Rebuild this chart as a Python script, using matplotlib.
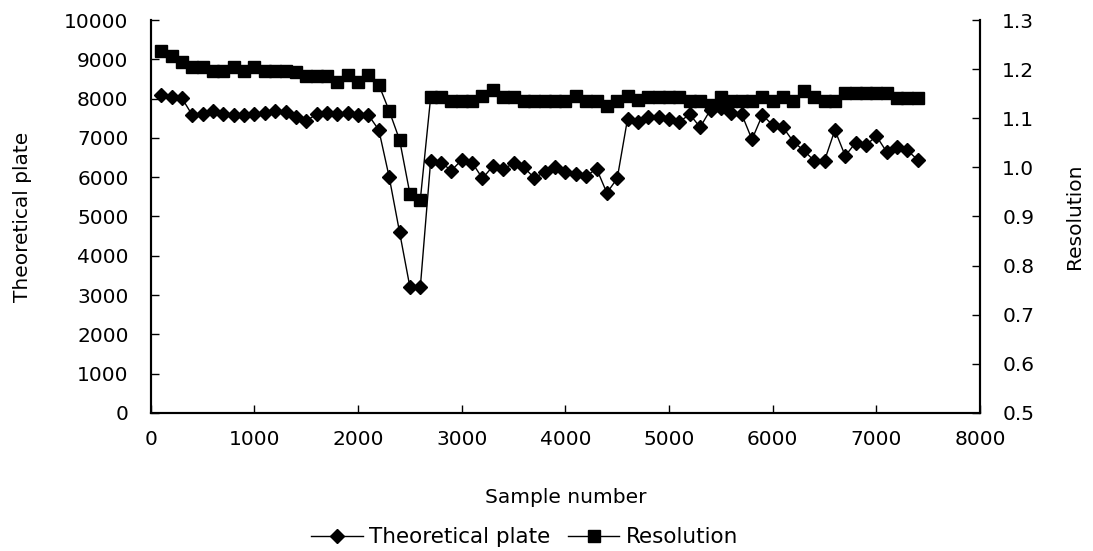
import matplotlib
matplotlib.use('Agg')
import matplotlib.pyplot as plt

# sample numbers (every 100 samples)
sample_no = list(range(100, 7500, 100))

plate = [8100, 8050, 8010, 7580, 7620, 7690, 7600, 7580, 7580, 7600,
         7640, 7690, 7660, 7520, 7440, 7600, 7640, 7600, 7640, 7580,
         7580, 7200, 6000, 4600, 3200, 3200, 6420, 6370, 6170, 6440,
         6370, 5970, 6280, 6210, 6350, 6250, 5980, 6130, 6270, 6140,
         6080, 6020, 6220, 5600, 5970, 7490, 7410, 7540, 7520, 7470,
         7410, 7600, 7270, 7720, 7750, 7640, 7610, 6960, 7580, 7330,
         7270, 6900, 6680, 6420, 6420, 7200, 6540, 6880, 6810, 7050,
         6640, 6780, 6680, 6440]

resolution = [1.236, 1.227, 1.215, 1.204, 1.204, 1.197, 1.197, 1.205, 1.197, 1.204,
              1.197, 1.197, 1.197, 1.195, 1.185, 1.185, 1.185, 1.173, 1.188, 1.173,
              1.188, 1.168, 1.115, 1.056, 0.946, 0.934, 1.143, 1.143, 1.136, 1.136,
              1.136, 1.146, 1.157, 1.143, 1.143, 1.135, 1.135, 1.135, 1.135, 1.135,
              1.145, 1.136, 1.136, 1.125, 1.136, 1.145, 1.138, 1.143, 1.143, 1.143,
              1.143, 1.136, 1.136, 1.127, 1.143, 1.136, 1.136, 1.136, 1.144, 1.136,
              1.144, 1.136, 1.156, 1.143, 1.136, 1.136, 1.152, 1.152, 1.152, 1.152,
              1.152, 1.141, 1.141, 1.141]

plt.rcParams['font.family'] = ['DejaVu Sans']
plt.rcParams['font.size'] = 14.5

fig = plt.figure(figsize=(10.93, 5.51), dpi=100)
ax = fig.add_axes([0.138, 0.2505, 0.7586, 0.7132])
ax2 = ax.twinx()

l1, = ax.plot(sample_no, plate, color='black', lw=1, marker='D', ms=7.5,
              label='Theoretical plate')
l2, = ax2.plot(sample_no, resolution, color='black', lw=1, marker='s', ms=8,
               label='Resolution')

ax.set_xlim(0, 8000)
ax.set_ylim(0, 10000)
ax2.set_ylim(0.5, 1.3)
ax.set_xticks(range(0, 8001, 1000))
ax.set_yticks(range(0, 10001, 1000))
ax2.set_yticks([0.5, 0.6, 0.7, 0.8, 0.9, 1.0, 1.1, 1.2, 1.3])
ax2.set_yticklabels(['%.1f' % v for v in ax2.get_yticks()])

for a in (ax, ax2):
    a.spines['top'].set_visible(False)
    for s in a.spines.values():
        s.set_linewidth(1.5)
    a.tick_params(direction='in', length=6, width=1, pad=16)
ax.tick_params(axis='x', pad=12)

ax.set_xlabel('Sample number', labelpad=28)
ax.set_ylabel('Theoretical plate', labelpad=23)
ax2.set_ylabel('Resolution', labelpad=22)

fig.legend(handles=[l1, l2], loc='center', bbox_to_anchor=(0.48, 0.025),
           ncol=2, frameon=False, handlelength=2.4, columnspacing=0.8,
           handletextpad=0.3, fontsize=15.5)

fig.savefig('out.png', dpi=100)
